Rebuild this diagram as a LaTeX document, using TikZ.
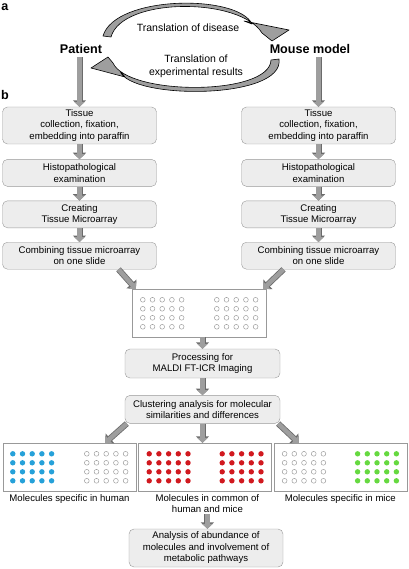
\documentclass[tikz,border=0pt]{standalone}
\usepackage{fontspec}
\setmainfont{Liberation Sans}
\usetikzlibrary{positioning}
\usetikzlibrary{arrows.meta}
\definecolor{boxfill}{rgb}{0.93,0.93,0.93}
\definecolor{boxline}{rgb}{0.6,0.6,0.6}
\definecolor{arrowfill}{rgb}{0.62,0.62,0.62}
\definecolor{arrowline}{rgb}{0.42,0.42,0.42}
\definecolor{humanblue}{rgb}{0.15,0.63,0.85}
\definecolor{commonred}{rgb}{0.82,0.1,0.12}
\definecolor{micegreen}{rgb}{0.4,0.85,0.25}
\definecolor{dotgray}{rgb}{0.62,0.62,0.62}

\begin{document}
\begin{tikzpicture}[
            x = 1pt, y = -1pt, % pixel grid, y pointing down
            font = \fontsize{9.6}{11.5}\selectfont, % text in boxes
            node distance = 14pt % gap between boxes
        ]

        \tikzstyle{stepbox}=[
            draw = boxline,
            fill = boxfill,
            rounded corners = 5pt,
            align = center,
            minimum width = 154pt,
            minimum height = 27pt,
            inner sep = 2pt
        ]
        \tikzstyle{slide}=[draw = boxline, minimum width = 133pt, minimum height = 48pt, inner sep = 0pt]
        \tikzstyle{flow}=[
            line width = 4.4pt,
            draw = arrowfill,
            -{Triangle[length=5pt,width=10.5pt]},
            preaction = {draw = arrowline, line width = 6pt, -{Triangle[length=6.5pt,width=13pt]}}
        ]
        \tikzstyle{ribbon}=[fill = arrowfill, draw = black, line width = 0.6pt, line join = round]
        \tikzstyle{title}=[font = \fontsize{12.6}{14}\selectfont\bfseries]

        \useasboundingbox (0,0) rectangle (408,569);

        % panel a
        \node[title] (lblA) at (5,7) {a};
        \node[title] (patient) at (81,49) {Patient};
        \node[title] (mouse) at (310,49) {Mouse model};
        \node[font = \fontsize{10.5}{13}\selectfont] (toMouse) at (188,28) {Translation of disease};
        \node[font = \fontsize{10.5}{13}\selectfont, align = center] (toPatient) at (196,66.5) {Translation of\\experimental results};

        \filldraw[ribbon] (103,36) .. controls (115,-5) and (238,-6) .. (252,24)
            -- (244,21) -- (289,30) -- (272,41) -- (262,33)
            .. controls (240,-3) and (122,-3) .. (111,37) -- cycle;
        \filldraw[ribbon] (279,59) .. controls (285,100) and (130,100) .. (120,71)
            -- (125,77) -- (91,68) -- (108,57) -- (113,63)
            .. controls (128,96) and (270,96) .. (271,60) -- cycle;

        % panel b
        \node[title] (lblB) at (5,95) {b};

        % patient column
        \node[stepbox, minimum height = 37pt] (tissueP) at (79.5,125.5) {Tissue\\collection, fixation,\\embedding into paraffin};
        \node[stepbox] (histoP) [below = 15pt of tissueP] {Histopathological\\examination};
        \node[stepbox] (tmaP) [below = of histoP] {Creating\\Tissue Microarray};
        \node[stepbox] (combP) [below = of tmaP] {Combining tissue microarray\\on one slide};

        \draw[flow] (tissueP.north |- patient.south) -- (tissueP.north);
        \draw[flow] (tissueP) -- (histoP);
        \draw[flow] (histoP) -- (tmaP);
        \draw[flow] (tmaP) -- (combP);

        % mouse column
        \node[stepbox, minimum height = 37pt] (tissueM) at (318.5,125.5) {Tissue\\collection, fixation,\\embedding into paraffin};
        \node[stepbox] (histoM) [below = 15pt of tissueM] {Histopathological\\examination};
        \node[stepbox] (tmaM) [below = of histoM] {Creating\\Tissue Microarray};
        \node[stepbox] (combM) [below = of tmaM] {Combining tissue microarray\\on one slide};

        \draw[flow] (tissueM.north |- mouse.south) -- (tissueM.north);
        \draw[flow] (tissueM) -- (histoM);
        \draw[flow] (histoM) -- (tmaM);
        \draw[flow] (tmaM) -- (combM);

        % common slide
        \node[slide, minimum width = 134pt] (slide) at (199,313) {};
        \draw[flow] ([xshift=39pt]combP.south) -- ([xshift=4pt]slide.north west);
        \draw[flow] ([xshift=-35pt]combM.south) -- ([xshift=-3pt]slide.north east);

        \node[stepbox, minimum width = 155pt, minimum height = 29pt] (proc) at (202.5,363.5) {Processing for\\MALDI FT-ICR Imaging};
        \node[stepbox, minimum width = 155pt, minimum height = 28pt] (cluster) [below = 17pt of proc] {Clustering analysis for molecular\\similarities and differences};
        \draw[flow] (slide.south -| proc.north) -- (proc.north);
        \draw[flow] (proc) -- (cluster);

        % results
        \node[slide] (human) at (69.5,467) {};
        \node[slide] (common) [right = 2pt of human] {};
        \node[slide] (mice) [right = 2pt of common] {};

        \draw[flow] ([xshift=2pt]cluster.south west) -- ([xshift=-31pt]human.north east);
        \draw[flow] (cluster.south) -- (cluster.south |- common.north);
        \draw[flow] ([xshift=-2pt]cluster.south east) -- ([xshift=25pt]mice.north west);

        \foreach \i in {0,...,4}
            \foreach \j in {0,...,3} {
                \draw[dotgray, line width = 0.5pt] ([shift={(11+9.7*\i,11+9*\j)}]slide.north west) circle (2.4pt);
                \draw[dotgray, line width = 0.5pt] ([shift={(85+9.7*\i,11+9*\j)}]slide.north west) circle (2.4pt);
                \fill[humanblue] ([shift={(10+9.7*\i,11+9*\j)}]human.north west) circle (2.7pt);
                \draw[dotgray, line width = 0.5pt] ([shift={(84+9.7*\i,11+9*\j)}]human.north west) circle (2.4pt);
                \fill[commonred] ([shift={(11+9.7*\i,11+9*\j)}]common.north west) circle (2.7pt);
                \fill[commonred] ([shift={(84+9.7*\i,11+9*\j)}]common.north west) circle (2.7pt);
                \draw[dotgray, line width = 0.5pt] ([shift={(11+9.7*\i,11+9*\j)}]mice.north west) circle (2.4pt);
                \fill[micegreen] ([shift={(84+9.7*\i,11+9*\j)}]mice.north west) circle (2.7pt);
            }

        \node[inner sep = 1pt] (lhuman) [below = 2pt of human] {Molecules specific in human};
        \node[inner sep = 1pt, align = center] (lcommon) [below = 2pt of common, xshift = 2.5pt] {Molecules in common of\\human and mice};
        \node[inner sep = 1pt] (lmice) [below = 2pt of mice] {Molecules specific in mice};

        \node[stepbox, minimum height = 38pt] (final) at (206,548) {Analysis of abundance of\\molecules and involvement of\\metabolic pathways};
        \draw[flow] (lcommon.south) -- (lcommon.south |- final.north);

  \end{tikzpicture}
\end{document}
